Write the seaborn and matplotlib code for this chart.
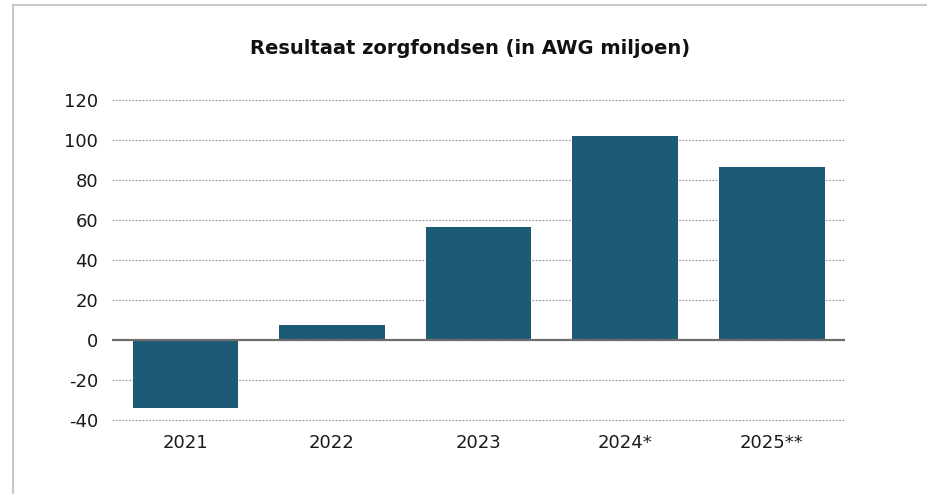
import pandas as pd
import matplotlib.pyplot as plt
import seaborn as sns
from matplotlib.patches import Rectangle

sns.set_style("white")
plt.rcParams['font.family'] = ['DejaVu Sans']

# data
years = ["2021", "2022", "2023", "2024*", "2025**"]
resultaat = [-34, 7.5, 56.5, 102, 86.5]
yticks = [-40, -20, 0, 20, 40, 60, 80, 100, 120]

df = pd.DataFrame({"Jaar": years, "Resultaat": resultaat})

fig = plt.figure(figsize=(9.28, 4.94), dpi=100)
ax = fig.add_axes([0.1207, 0.150, 0.790, 0.648])

sns.barplot(data=df, x="Jaar", y="Resultaat", color="#1c5a75", saturation=1,
            width=0.72, linewidth=0, ax=ax, zorder=3)

ax.set_ylim(-40, 120)
ax.set_xlim(-0.5, 4.5)
ax.set_yticks(yticks)
ax.set_yticklabels([str(t) for t in yticks])
ax.yaxis.grid(True, linestyle=(0, (1.5, 1.5)), color="#8f8f8f", linewidth=0.8, zorder=0)
for gl in ax.get_ygridlines():
    gl.set_clip_on(False)
ax.axhline(0, color="#6e6e6e", linewidth=1.6, zorder=4)

for s in ax.spines.values():
    s.set_visible(False)
ax.tick_params(axis="both", length=0, labelsize=13, colors="#1a1a1a")
ax.tick_params(axis="y", pad=10)
ax.tick_params(axis="x", pad=10)
ax.set_xlabel("")
ax.set_ylabel("")

fig.text(0.507, 0.902, "Resultaat zorgfondsen (in AWG miljoen)", ha="center",
         va="center", fontsize=14, fontweight="bold", color="#111111")

# light frame around the chart
fig.patches.append(Rectangle((13 / 928, -0.1), 1.2, 1.1 - 5 / 494, transform=fig.transFigure,
                             fill=False, edgecolor="#c8c8c8", linewidth=1.5))

fig.savefig("out.png", dpi=100)
